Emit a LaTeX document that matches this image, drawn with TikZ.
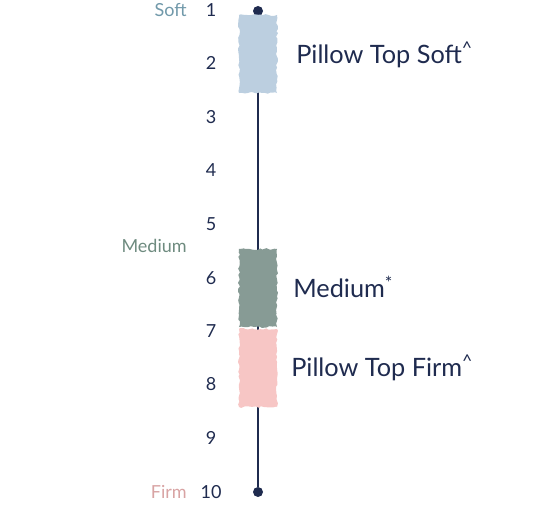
\documentclass[tikz,border=0pt]{standalone}
\usepackage{fontspec}
\setmainfont{Lato}
\usetikzlibrary{positioning, decorations.pathmorphing}
\definecolor{navy}{HTML}{1F2B4F}
\definecolor{softlbl}{HTML}{7199AA}
\definecolor{medlbl}{HTML}{6E8B7F}
\definecolor{firmlbl}{HTML}{D8A3A3}
\definecolor{softfill}{HTML}{BCCFE0}
\definecolor{medfill}{HTML}{879B95}
\definecolor{firmfill}{HTML}{F7C6C5}
\pgfmathsetseed{7}

\begin{document}
\begin{tikzpicture}[x=0.025cm, y=-0.025cm, font=\fontsize{12.8}{15}\selectfont,
    num/.style={text=navy, inner sep=0pt},
    side/.style={anchor=east, inner sep=0pt},
    brush/.style={minimum width=0.95cm, minimum height=1.95cm, inner sep=0pt,
      decorate, decoration={random steps, segment length=2pt, amplitude=0.7pt}},
    dot/.style={circle, fill=navy, inner sep=0pt, minimum size=0.25cm},
    prod/.style={anchor=west, text=navy, inner sep=0pt, font=\fontsize{18}{21}\selectfont}]
    \useasboundingbox (0,0) rectangle (560,530);

    % scale numbers
    \foreach \i/\y in {1/10, 2/63, 3/117, 4/170, 5/224, 6/278, 7/331, 8/384, 9/438, 10/492}
      \node[num] (n\i) at (211,\y) {\i};

    \node[side, text=softlbl] (soft) at (187,10) {Soft};
    \node[side, text=medlbl] (medium) at (187,246) {Medium};
    \node[side, text=firmlbl] (firm) at (187,492) {Firm};

    % the scale line
    \node[dot] (top) at (258,11) {};
    \node[dot] (bot) at (258,492) {};
    \draw[navy, line width=1.6pt] (top) -- (bot);

    % brush marks
    \node[brush, fill=softfill] (bsoft) at (258,54) {};
    \node[brush, fill=medfill] (bmed) at (258,288) {};
    \node[brush, fill=firmfill] (bfirm) at (258,368) {};

    \node[prod] (psoft) at (296,55) {Pillow Top Soft\textsuperscript{\textasciicircum}};
    \node[prod] (pmed) at (293,287) {Medium\textsuperscript{*}};
    \node[prod] (pfirm) at (291,368) {Pillow Top Firm\textsuperscript{\textasciicircum}};
\end{tikzpicture}
\end{document}
